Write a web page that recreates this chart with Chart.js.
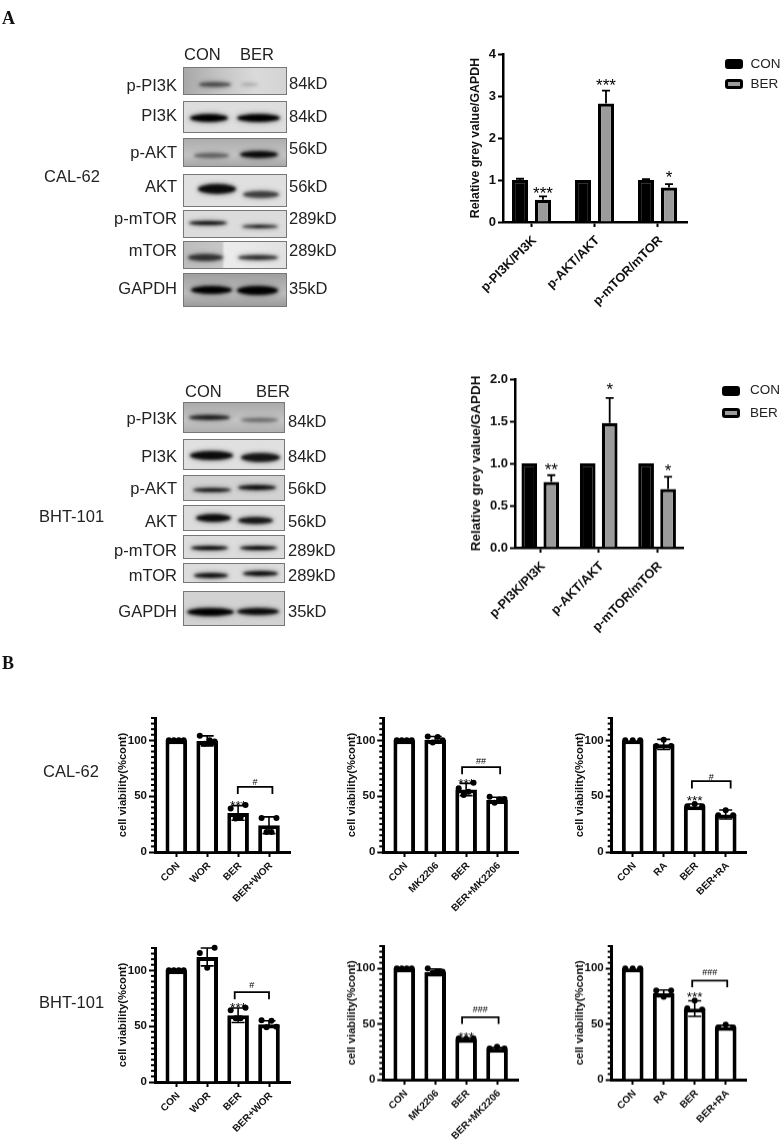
<!DOCTYPE html>
<html>
<head>
<meta charset="utf-8">
<style>
html, body { margin: 0; padding: 0; background: #fff; }
#page { position: relative; width: 781px; height: 1144px; overflow: hidden; font-family: "Liberation Sans", Arial, sans-serif; color: #222; filter: blur(0.35px); }
#page canvas { position: absolute; }
.txt { position: absolute; white-space: nowrap; line-height: 1; }
.blot { position: absolute; overflow: hidden; border: 1px solid #777; box-sizing: border-box; }
.band { position: absolute; background: #000; border-radius: 50%; filter: blur(1.4px); box-shadow: 0 0 4px 1px rgba(0,0,0,.35); }
.swatch { position: absolute; box-sizing: border-box; border-radius: 3px; border: 3px solid #000; }
</style>
</head>
<body>
<div id="page"></div>
<script src="https://cdn.jsdelivr.net/npm/chart.js@4"></script>
<script>
// Western blot summary charts (panel A)
const pathwayLabels = ['p-PI3K/PI3K', 'p-AKT/AKT', 'p-mTOR/mTOR'];
const groupNames = ['CON', 'BER'];

const calGreyCon = [1.0, 1.0, 1.0];
const calGreyConErr = [0.03, 0, 0.02];
const calGreyBer = [0.53, 2.82, 0.82];
const calGreyBerErr = [0.08, 0.31, 0.08];
const calGreyStars = ['***', '***', '*'];
const calGreyStarY = [0.78, 3.35, 1.15];
const calGreyTicks = [0, 1, 2, 3, 4];
const calGreyTickLabels = ['0', '1', '2', '3', '4'];

const bhtGreyCon = [1.0, 1.0, 1.0];
const bhtGreyConErr = [0, 0, 0];
const bhtGreyBer = [0.78, 1.48, 0.695];
const bhtGreyBerErr = [0.08, 0.295, 0.145];
const bhtGreyStars = ['**', '*', '*'];
const bhtGreyStarY = [0.97, 1.92, 0.96];
const bhtGreyTicks = [0, 0.5, 1, 1.5, 2];
const bhtGreyTickLabels = ['0.0', '0.5', '1.0', '1.5', '2.0'];

// Cell viability charts (panel B)
const viabTicks = [0, 50, 100];
const viabTickLabels = ['0', '50', '100'];
const viabTitle = 'cell viability(%cont)';
const worLabels = ['CON', 'WOR', 'BER', 'BER+WOR'];
const mkLabels = ['CON', 'MK2206', 'BER', 'BER+MK2206'];
const raLabels = ['CON', 'RA', 'BER', 'BER+RA'];

const calWorValues = [100, 99.5, 35, 24];
const calWorErr = [0, 4.5, 6.5, 7.5];
const calWorDots = [[100, 100, 100, 100], [104, 97, 100, 99], [39, 30, 31, 42], [30.5, 18, 18, 30.5]];
const calWorBracket = [2.99, 4.11, 58.3, 52];
const calWorHash = ['#', 62, 45];

const calMkValues = [100, 100.5, 56, 46.5];
const calMkErr = [0, 3, 5.5, 2.5];
const calMkDots = [[100, 100, 100, 100], [103.5, 98, 103, 100], [57, 51, 54, 62], [49.5, 44, 47, 47.5]];
const calMkBracket = [2.87, 4.1, 76, 69.6];
const calMkHash = ['##', 81, 64];

const calRaValues = [100, 96.4, 41, 33.6];
const calRaErr = [0, 4.5, 2, 4];
const calRaDots = [[100, 100, 100], [95, 100.5, 95], [41, 43, 41], [33, 37.5, 33]];
const calRaBracket = [2.91, 4.16, 63.4, 56.8];
const calRaHash = ['#', 66.7, 49.4];

const bhtWorValues = [100, 112, 59.8, 51.8];
const bhtWorErr = [0, 8, 6.5, 3];
const bhtWorDots = [[100, 100, 100, 100], [115.5, 102.4, 120.2], [64.3, 57, 57, 66.4], [55.4, 49, 54.8, 49.4]];
const bhtWorBracket = [2.89, 4, 80.4, 74];
const bhtWorHash = ['#', 86.6, 69.6];

const bhtMkValues = [100, 96.5, 36.5, 27.8];
const bhtMkErr = [0, 3, 0.8, 1];
const bhtMkDots = [[100, 100, 100, 100], [100, 96, 97, 97], [37, 36.5, 37], [28, 29.5, 28]];
const bhtMkBracket = [2.87, 4.05, 56, 50];
const bhtMkHash = ['###', 62.6, 41];

const bhtRaValues = [100, 77.5, 63.8, 47.3];
const bhtRaErr = [0, 3, 7, 1.5];
const bhtRaDots = [[100, 100, 100], [80, 74.5, 80], [64, 71, 63], [47, 49.5, 47]];
const bhtRaBracket = [2.92, 4.05, 89, 83];
const bhtRaHash = ['###', 95.8, 77.5];

// Blot rows: label, size, row top/bottom, label y, size y, background, CON band, BER band
// bands are [x0, x1, centre y, height, strength], read off the crops
const calBlots = [
    ['p-PI3K', '84kD', 67, 95, 85, 83, 'linear-gradient(90deg,#a8a8a8,#c4c4c4 35%,#dadada 70%,#d4d4d4)', [198, 230, 83, 5, .6], [240, 257, 83, 3, .2]],
    ['PI3K', '84kD', 101, 133, 115, 116, '#dedede', [189, 227, 117, 8, 1], [236, 279, 117, 8, 1]],
    ['p-AKT', '56kD', 138, 167, 152, 148, 'linear-gradient(180deg,#aeaeae,#c2c2c2 60%,#a8a8a8)', [193, 228, 154, 5, .5], [239, 277, 153, 7, .95]],
    ['AKT', '56kD', 174, 207, 186, 186, '#e0e0e0', [197, 235, 188, 10, .95], [242, 278, 193, 7, .72]],
    ['p-mTOR', '289kD', 210, 238, 218, 218, '#dcdcdc', [188, 226, 222, 4, .95], [241, 277, 225, 3, .95]],
    ['mTOR', '289kD', 241, 269, 250, 250, 'linear-gradient(90deg,#bdbdbd,#c6c6c6 37%,#ececec 40%,#e2e2e2)', [187, 222, 256, 7, .75], [237, 277, 256, 5, .8]],
    ['GAPDH', '35kD', 273, 307, 288, 288, 'linear-gradient(180deg,#a0a0a0,#bcbcbc 60%,#9c9c9c)', [190, 231, 289, 8, 1], [236, 277, 289, 9, 1]]
];
const bhtBlots = [
    ['p-PI3K', '84kD', 402, 433, 418, 421, 'linear-gradient(180deg,#aaaaaa,#c4c4c4 60%,#b0b0b0)', [188, 229, 416, 5, .85], [240, 277, 419, 4, .45]],
    ['PI3K', '84kD', 439, 470, 456, 456, '#e0e0e0', [189, 232, 454, 9, .95], [240, 279, 456, 9, .9]],
    ['p-AKT', '56kD', 475, 501, 488, 488, '#d2d2d2', [192, 230, 489, 4, .9], [237, 275, 486, 5, .95]],
    ['AKT', '56kD', 505, 531, 521, 521, '#dcdcdc', [195, 230, 517, 8, .95], [237, 272, 519, 7, .9]],
    ['p-mTOR', '289kD', 535, 559, 550, 550, '#dcdcdc', [190, 227, 547, 4, 1], [239, 276, 547, 4, 1]],
    ['mTOR', '289kD', 563, 583, 575, 575, '#dcdcdc', [193, 227, 574, 5, .95], [242, 277, 572, 5, .95]],
    ['GAPDH', '35kD', 591, 626, 611, 611, '#d2d2d2', [186, 233, 611, 8, 1], [236, 278, 610, 7, .95]]
];

const page = document.getElementById('page');
const FONT = '"Liberation Sans", Arial, sans-serif';
Chart.defaults.font.family = FONT;
Chart.defaults.color = '#111';

function addText(text, x, y, size, opts) {
    // y is the vertical centre of the text
    const el = document.createElement('div');
    el.className = 'txt';
    el.textContent = text;
    el.style.top = (y - size / 2) + 'px';
    el.style.fontSize = size + 'px';
    if (opts && opts.right) el.style.right = (781 - x) + 'px';
    else el.style.left = x + 'px';
    if (opts && opts.css) Object.assign(el.style, opts.css);
    page.appendChild(el);
}

function addBlots(rows, left, right, kdX) {
    rows.forEach(function(row) {
        const blot = document.createElement('div');
        blot.className = 'blot';
        blot.style.left = left + 'px';
        blot.style.top = row[2] + 'px';
        blot.style.width = (right - left) + 'px';
        blot.style.height = (row[3] - row[2]) + 'px';
        blot.style.background = row[6];
        [row[7], row[8]].forEach(function(b) {
            const band = document.createElement('div');
            band.className = 'band';
            band.style.left = (b[0] - left) + 'px';
            band.style.width = (b[1] - b[0]) + 'px';
            band.style.top = (b[2] - b[3] / 2 - row[2]) + 'px';
            band.style.height = b[3] + 'px';
            band.style.opacity = b[4];
            blot.appendChild(band);
        });
        page.appendChild(blot);
        addText(row[0], 177, row[4], 16.5, {right: true});
        addText(row[1], kdX, row[5], 16.5);
    });
}

function addLegend(x0, x1, y1, y2, textX, textY1, textY2) {
    const h = 10;
    [[y1, '#000', textY1, groupNames[0]], [y2, '#9b9b9b', textY2, groupNames[1]]].forEach(function(l) {
        const s = document.createElement('div');
        s.className = 'swatch';
        s.style.left = x0 + 'px';
        s.style.top = l[0] + 'px';
        s.style.width = (x1 - x0) + 'px';
        s.style.height = h + 'px';
        s.style.background = l[1];
        page.appendChild(s);
        addText(l[3], textX, l[2], 13.5);
    });
}

// Error bars, minor ticks, stars and brackets, placed through the chart scales
function marksPlugin(p) {
    return {
        id: 'marks',
        afterDatasetsDraw(chart) {
            const ctx = chart.ctx;
            const x = chart.scales.x, y = chart.scales.y;
            ctx.save();
            ctx.strokeStyle = '#000';
            ctx.fillStyle = '#000';

            // error bars
            p.errors.forEach(function(e) {
                const meta = chart.getDatasetMeta(e.dataset);
                ctx.lineWidth = p.errWidth;
                e.values.forEach(function(err, i) {
                    if (!err) return;
                    const px = meta.data[i].x;
                    const val = chart.data.datasets[e.dataset].data[i].y;
                    const top = y.getPixelForValue(val + err);
                    const bottom = y.getPixelForValue(p.bothWays ? val - err : val);
                    ctx.beginPath();
                    ctx.moveTo(px, bottom);
                    ctx.lineTo(px, top);
                    ctx.moveTo(px - p.capSize, top);
                    ctx.lineTo(px + p.capSize, top);
                    if (p.bothWays) {
                        ctx.moveTo(px - p.capSize, bottom);
                        ctx.lineTo(px + p.capSize, bottom);
                    }
                    ctx.stroke();
                });
            });

            // minor ticks on the y axis
            if (p.minorStep) {
                ctx.lineWidth = 2;
                for (let v = p.minorStep; v <= y.max; v += p.minorStep) {
                    if (y.ticks.some(t => t.value === v)) continue;
                    const py = y.getPixelForValue(v);
                    ctx.beginPath();
                    ctx.moveTo(x.left - 4, py);
                    ctx.lineTo(x.left, py);
                    ctx.stroke();
                }
            }

            // significance stars
            ctx.textAlign = 'center';
            ctx.textBaseline = 'alphabetic';
            ctx.font = p.starSize + 'px ' + FONT;
            p.stars.forEach(function(s) {
                const px = chart.getDatasetMeta(s.dataset).data[s.index].x;
                ctx.fillText(s.text, px, y.getPixelForValue(s.y) + p.starSize * 0.57);
            });

            // bracket with hash marks
            if (p.bracket) {
                const b = p.bracket;
                const x0 = x.getPixelForValue(b[0]), x1 = x.getPixelForValue(b[1]);
                const top = y.getPixelForValue(b[2]), leg = y.getPixelForValue(b[3]);
                ctx.lineWidth = 1.8;
                ctx.beginPath();
                ctx.moveTo(x0, leg);
                ctx.lineTo(x0, top);
                ctx.lineTo(x1, top);
                ctx.lineTo(x1, leg);
                ctx.stroke();
                ctx.font = '9px ' + FONT;
                ctx.textBaseline = 'middle';
                ctx.fillText(p.hash[0], (x0 + x1) / 2, y.getPixelForValue(p.hash[1]));
            }
            ctx.restore();
        }
    };
}

// box = area of the plot on the page, titleX = centre of the y title on the page
function makeChart(box, xLabels, datasets, marks, axes) {
    const padTop = 12, padRight = 6, xHeight = 90;
    const halfTitle = axes.titleSize * 0.6;
    const cx = Math.round(box.titleX - halfTitle);
    const canvas = document.createElement('canvas');
    const w = box.right - cx + padRight, h = box.bottom - box.top + padTop + xHeight;
    canvas.width = w;
    canvas.height = h;
    canvas.style.left = cx + 'px';
    canvas.style.top = (box.top - padTop) + 'px';
    canvas.style.width = w + 'px';
    canvas.style.height = h + 'px';
    page.appendChild(canvas);

    const xMin = 1 - (box.first - box.left) / box.step;
    const xMax = 1 + (box.right - box.first) / box.step;
    const xTicks = xLabels.map((_, i) => i + 1);

    return new Chart(canvas, {
        type: 'bar',
        data: {datasets: datasets},
        plugins: [marksPlugin(marks)],
        options: {
            responsive: false,
            animation: false,
            layout: {padding: {top: padTop, right: padRight, left: 0, bottom: 0}},
            plugins: {legend: {display: false}, tooltip: {enabled: false}},
            scales: {
                x: {
                    type: 'linear',
                    offset: false,
                    min: xMin,
                    max: xMax,
                    grid: {offset: false, drawOnChartArea: false, color: '#000', tickLength: axes.xTick, tickWidth: axes.tickWidth},
                    border: {color: '#000', width: axes.lineWidth},
                    ticks: {
                        autoSkip: false, maxRotation: 45, minRotation: 45, padding: axes.xPad,
                        labelOffset: axes.labelOffset,
                        color: '#111',
                        font: {size: axes.xSize, weight: 'bold'},
                        callback: v => xLabels[v - 1]
                    },
                    afterBuildTicks: s => { s.ticks = xTicks.map(v => ({value: v})); },
                    afterFit: s => { s.height = xHeight; s.paddingLeft = 0; s.paddingRight = 0; }
                },
                y: {
                    min: 0,
                    max: axes.yMax,
                    grid: {drawOnChartArea: false, color: '#000', tickLength: axes.yTick, tickWidth: axes.tickWidth},
                    border: {color: '#000', width: axes.lineWidth},
                    title: {display: true, text: axes.title, padding: 0, color: '#111', font: {size: axes.titleSize, weight: 'bold'}},
                    ticks: {
                        padding: 2, color: '#111',
                        font: {size: axes.ySize, weight: 'bold'},
                        callback: (v, i) => axes.yLabels[i]
                    },
                    afterBuildTicks: s => { s.ticks = axes.yTicks.map(v => ({value: v})); },
                    afterFit: s => { s.width = box.left - cx; s.paddingTop = 0; s.paddingBottom = 0; }
                }
            }
        }
    });
}

function greyChart(box, con, conErr, ber, berErr, stars, starY, ticks, tickLabels, yMax, cat, bar, titleSize) {
    const xy = arr => arr.map((v, i) => ({x: i + 1, y: v}));
    const style = {categoryPercentage: cat, barPercentage: bar, borderColor: '#000', borderWidth: 3.2, borderSkipped: 'bottom'};
    const datasets = [
        Object.assign({label: groupNames[0], data: xy(con), backgroundColor: '#000'}, style),
        Object.assign({label: groupNames[1], data: xy(ber), backgroundColor: '#9b9b9b'}, style)
    ];
    const marks = {
        errors: [{dataset: 0, values: conErr}, {dataset: 1, values: berErr}],
        bothWays: false, errWidth: 1.8, capSize: 4, starSize: 17,
        stars: stars.map((t, i) => ({text: t, y: starY[i], dataset: 1, index: i}))
    };
    makeChart(box, pathwayLabels, datasets, marks, {
        title: 'Relative grey value/GAPDH', titleSize: titleSize, xSize: 12.8, ySize: 13,
        yMax: yMax, yTicks: ticks, yLabels: tickLabels, labelOffset: 3, xPad: 6,
        xTick: 5, yTick: 5, tickWidth: 2, lineWidth: 2.5
    });
}

function viabChart(box, labels, values, err, dots, bracket, hash) {
    const dotData = [];
    dots.forEach(function(group, i) {
        // dots are spread sideways over the bar, as in the original
        const offsets = group.length === 3 ? [-0.24, 0, 0.24] : [-0.24, -0.08, 0.08, 0.24];
        group.forEach((v, j) => dotData.push({x: i + 1 + offsets[j], y: v}));
    });
    const datasets = [
        {
            label: 'mean', order: 1, data: values.map((v, i) => ({x: i + 1, y: v})),
            backgroundColor: '#fff', borderColor: '#000', borderWidth: 4, borderSkipped: 'bottom',
            categoryPercentage: 0.7, barPercentage: 1
        },
        {
            type: 'scatter', label: 'replicates', order: 0, data: dotData, clip: false,
            pointRadius: 3, pointBackgroundColor: '#000', pointBorderWidth: 0
        }
    ];
    const marks = {
        errors: [{dataset: 0, values: err}],
        bothWays: true, errWidth: 1.6, capSize: 6.5, starSize: 13.7, minorStep: 5,
        stars: [{text: '***', y: hash[2], dataset: 0, index: 2}],
        bracket: bracket, hash: hash
    };
    makeChart(box, labels, datasets, marks, {
        title: viabTitle, titleSize: 11.2, xSize: 10, ySize: 11.5,
        yMax: 120, yTicks: viabTicks, yLabels: viabTickLabels, labelOffset: 2, xPad: 3,
        xTick: 5, yTick: 6, tickWidth: 2, lineWidth: 3
    });
}

// panel letters and cell line names
const serifBold = {fontFamily: '"Liberation Serif", serif', fontWeight: 'bold', color: '#111'};
addText('A', 2, 18, 18, {css: serifBold});
addText('B', 2, 663, 18, {css: serifBold});
addText('CAL-62', 44, 176, 16.5);
addText('BHT-101', 39, 516, 16.5);
addText('CAL-62', 43, 771, 16.5);
addText('BHT-101', 39, 1002, 16.5);

// western blots
addText('CON', 184, 54, 16.5);
addText('BER', 240, 54, 16.5);
addBlots(calBlots, 183, 287, 289);
addText('CON', 185, 391, 16.5);
addText('BER', 256, 391, 16.5);
addBlots(bhtBlots, 183, 285, 288);

// panel A charts
greyChart({left: 503, right: 687, top: 54, bottom: 222, first: 531.5, step: 63, titleX: 475},
    calGreyCon, calGreyConErr, calGreyBer, calGreyBerErr, calGreyStars, calGreyStarY,
    calGreyTicks, calGreyTickLabels, 4, 0.73, 0.7, 12.4);
greyChart({left: 515, right: 683, top: 379, bottom: 547.7, first: 540.3, step: 58.4, titleX: 476},
    bhtGreyCon, bhtGreyConErr, bhtGreyBer, bhtGreyBerErr, bhtGreyStars, bhtGreyStarY,
    bhtGreyTicks, bhtGreyTickLabels, 2, 0.753, 0.714, 13.5);
addLegend(725, 743, 59, 79, 750.5, 64, 84);
addLegend(722, 740, 386, 408, 750, 390, 413);

// panel B charts
viabChart({left: 155, right: 290, top: 717.6, bottom: 852, first: 176.3, step: 30.9, titleX: 122.7},
    worLabels, calWorValues, calWorErr, calWorDots, calWorBracket, calWorHash);
viabChart({left: 383.3, right: 518.3, top: 717.6, bottom: 852, first: 404.3, step: 31, titleX: 351.5},
    mkLabels, calMkValues, calMkErr, calMkDots, calMkBracket, calMkHash);
viabChart({left: 611.7, right: 746, top: 717.6, bottom: 852, first: 632.7, step: 31, titleX: 580},
    raLabels, calRaValues, calRaErr, calRaDots, calRaBracket, calRaHash);
viabChart({left: 155, right: 290, top: 947.6, bottom: 1082, first: 176.3, step: 30.9, titleX: 122.7},
    worLabels, bhtWorValues, bhtWorErr, bhtWorDots, bhtWorBracket, bhtWorHash);
viabChart({left: 383.3, right: 518.3, top: 946, bottom: 1079.7, first: 404.3, step: 31, titleX: 351.5},
    mkLabels, bhtMkValues, bhtMkErr, bhtMkDots, bhtMkBracket, bhtMkHash);
viabChart({left: 611.7, right: 746, top: 946, bottom: 1079.7, first: 632.7, step: 31, titleX: 580},
    raLabels, bhtRaValues, bhtRaErr, bhtRaDots, bhtRaBracket, bhtRaHash);
</script>
</body>
</html>
